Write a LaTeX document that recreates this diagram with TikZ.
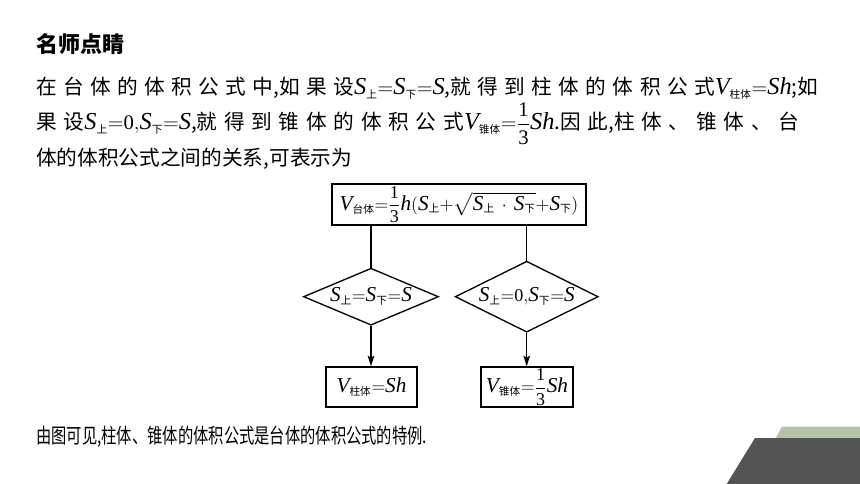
\RequirePackage{fix-cm}
\documentclass[tikz,border=0pt]{standalone}
\usepackage{amsmath}
\usepackage{fontspec}
\setmainfont{Liberation Serif}
\newfontfamily\cjk{Noto Sans CJK SC}
\newfontfamily\cjknar[FakeStretch=0.74]{Noto Sans CJK SC}
\newfontfamily\tms[Scale=1.18]{Liberation Serif}
\newfontfamily\tmsd{Liberation Serif}
\usetikzlibrary{shapes.geometric,arrows.meta}
\XeTeXinterchartokenstate=1
\newcount\cjkcnt \cjkcnt="4E00
\loop \XeTeXcharclass\cjkcnt=1 \advance\cjkcnt by 1 \ifnum\cjkcnt<"A000 \repeat
\XeTeXcharclass"3001=1
\XeTeXinterchartoks 1 1 = {\hskip 0pt plus 1fil\relax}
\newcommand\mi[1]{\text{\tms\itshape #1}}
\newcommand\dg[1]{\text{\tmsd #1}}
\newcommand\third{\dfrac{\dg{1}}{\dg{3}}}
\newcommand\sbs[1]{_{\mbox{\cjk\fontsize{8}{8}\selectfont #1}}}
\definecolor{decoA}{HTML}{B6C2A8}
\definecolor{decoB}{HTML}{545454}
\tikzset{
  body/.style={anchor=base west, inner sep=0pt, font=\cjk\fontsize{15.5}{18}\selectfont},
  head/.style={anchor=base west, inner sep=0pt, font=\cjk\bfseries\fontsize{16.5}{19}\selectfont},
  last/.style={anchor=base west, inner sep=0pt, font=\cjknar\fontsize{15.5}{18}\selectfont},
  box/.style={draw, line width=1pt, rectangle, inner sep=0pt, font=\cjk\fontsize{13.5}{16}\selectfont},
  dia/.style={draw, line width=1pt, diamond, inner sep=0pt, font=\cjk\fontsize{13.5}{16}\selectfont},
  ln/.style={line width=1pt},
  arr/.style={line width=1pt, -{Stealth[length=8pt, width=5pt, inset=1.5pt]}},
}
\begin{document}
\begin{tikzpicture}[x=0.75pt, y=-0.75pt]
\useasboundingbox (0,0) rectangle (860,484);
\node[head] (h) at (36,53) {名师点睛};
\node[body] (l1) at (36,95) {\hbox to 586.5pt{在台体的体积公式中,如果设$\mi{S}\sbs{上}{=}\mi{S}\sbs{下}{=}\mi{S}$,就得到柱体的体积公式$\mi{V}\sbs{柱体}{=}\mi{S}\mi{h}$;如}};
\node[body] (l2) at (36,130) {\hbox to 572.25pt{果设$\mi{S}\sbs{上}{=}\dg{0}{,}\mi{S}\sbs{下}{=}\mi{S}$,就得到锥体的体积公式$\mi{V}\sbs{锥体}{=}\third\mi{S}\mi{h}$.因此,柱体、锥体、台}};
\node[body] (l3) at (36,166) {体的体积公式之间的关系,可表示为};
\node[last] (l4) at (36,443) {由图可见,柱体、锥体的体积公式是台体的体积公式的特例.};

\node[box, minimum width=190.5pt, minimum height=30.75pt] (top) at (459,204.5) {$\mi{V}\sbs{台体}{=}\third\mi{h}(\mi{S}\sbs{上}{+}\sqrt{\mi{S}\sbs{上}\,\cdot\,\mi{S}\sbs{下}}{+}\mi{S}\sbs{下})$};
\node[dia, minimum width=101.25pt, minimum height=42.75pt, aspect=2.37] (ld) at (371,296.7) {$\mi{S}\sbs{上}{=}\mi{S}\sbs{下}{=}\mi{S}$};
\node[dia, minimum width=107.25pt, minimum height=53.25pt, aspect=2.01] (rd) at (526.7,296.7) {$\mi{S}\sbs{上}{=}\dg{0}{,}\mi{S}\sbs{下}{=}\mi{S}$};
\node[box, minimum width=68.25pt, minimum height=30pt] (lb) at (371.5,387) {$\mi{V}\sbs{柱体}{=}\mi{S}\mi{h}$};
\node[box, minimum width=69pt, minimum height=30pt] (rb) at (527,387) {$\mi{V}\sbs{锥体}{=}\third\mi{S}\mi{h}$};

\draw[ln] (ld.north) -- (ld.north |- top.south);
\draw[ln] (rd.north) -- (rd.north |- top.south);
\draw[arr] (ld.south) -- (ld.south |- lb.north);
\draw[arr] (rd.south) -- (rd.south |- rb.north);

\fill[decoA] (781.7,426.7) -- (860,426.7) -- (860,438) -- (776,438) -- cycle;
\fill[decoB] (755,438) -- (860,438) -- (860,484) -- (726.7,484) -- cycle;
\end{tikzpicture}
\end{document}
